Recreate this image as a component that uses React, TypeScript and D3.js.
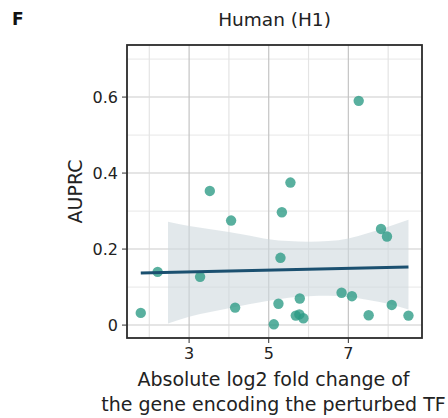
import React from "react";
import * as d3 from "d3";

const foldChange = [1.786, 2.21, 3.276, 3.52, 4.055, 4.156, 5.128, 5.244, 5.295, 5.33, 5.545, 5.68, 5.77, 5.78, 5.87, 6.83, 7.09, 7.26, 7.51, 7.82, 7.97, 8.09, 8.51];
const auprc = [0.032, 0.14, 0.127, 0.353, 0.275, 0.046, 0.002, 0.056, 0.177, 0.297, 0.375, 0.025, 0.028, 0.07, 0.018, 0.085, 0.076, 0.59, 0.026, 0.253, 0.233, 0.053, 0.025];

const fitX = [1.786, 8.51];
const fitY = [0.137, 0.153];

const bandX = [2.47, 3.0, 3.5, 4.0, 4.5, 5.0, 5.5, 6.0, 6.5, 7.0, 7.5, 8.0, 8.51];
const bandUpper = [0.272, 0.261, 0.253, 0.245, 0.236, 0.226, 0.221, 0.219, 0.221, 0.228, 0.242, 0.259, 0.277];
const bandLower = [0.004, 0.022, 0.034, 0.044, 0.055, 0.064, 0.072, 0.076, 0.077, 0.074, 0.066, 0.056, 0.041];

const xMajor = [3, 5, 7];
const xMinor = [2, 4, 6, 8];
const yMajor = [0, 0.2, 0.4, 0.6];
const yMinor = [0.1, 0.3, 0.5, 0.7];
const yTickLabels = ["0", "0.2", "0.4", "0.6"];

const title = "Human (H1)";
const panelLetter = "F";
const yLabel = "AUPRC";
const xLabelLines = ["Absolute log2 fold change of", "the gene encoding the perturbed TF"];

export default function App() {
  const W = 448, H = 418;
  const left = 127, right = 422, top = 45, bottom = 338;
  const x = d3.scaleLinear().domain([1.44, 8.85]).range([left, right]);
  const y = d3.scaleLinear().domain([-0.034, 0.737]).range([bottom, top]);
  const font = "'DejaVu Sans', sans-serif";

  const area = d3
    .area<number>()
    .x((_, i) => x(bandX[i]))
    .y0((_, i) => y(bandLower[i]))
    .y1((_, i) => y(bandUpper[i]))
    .curve(d3.curveMonotoneX);
  const line = d3
    .line<number>()
    .x((_, i) => x(fitX[i]))
    .y((_, i) => y(fitY[i]));

  const cx = (left + right) / 2;

  return (
    <svg width={W} height={H} style={{ position: "absolute", left: 0, top: 0, background: "#fff" }} fontFamily={font}>
      <rect x={0} y={0} width={W} height={H} fill="#fff" />
      {/* grid */}
      {yMinor.map((v) => (
        <line key={"ym" + v} x1={left} x2={right} y1={y(v)} y2={y(v)} stroke="#ececec" strokeWidth={1.2} />
      ))}
      {xMinor.map((v) => (
        <line key={"xm" + v} x1={x(v)} x2={x(v)} y1={top} y2={bottom} stroke="#e4e4e4" strokeWidth={1.2} />
      ))}
      {yMajor.map((v) => (
        <line key={"yM" + v} x1={left} x2={right} y1={y(v)} y2={y(v)} stroke="#dcdcdc" strokeWidth={1.5} />
      ))}
      {xMajor.map((v) => (
        <line key={"xM" + v} x1={x(v)} x2={x(v)} y1={top} y2={bottom} stroke="#c4c4c4" strokeWidth={1.2} />
      ))}
      {/* band */}
      <path d={area(bandX) || ""} fill="#cfd8dd" fillOpacity={0.6} />
      {/* points */}
      {foldChange.map((v, i) => (
        <circle key={"p" + i} cx={x(v)} cy={y(auprc[i])} r={5.2} fill="#2a9a84" fillOpacity={0.78} />
      ))}
      {/* fit line */}
      <path d={line(fitX) || ""} fill="none" stroke="#1b5070" strokeWidth={3} />
      {/* frame */}
      <rect x={left} y={top} width={right - left} height={bottom - top} fill="none" stroke="#2b2b2b" strokeWidth={1.8} />
      {/* y ticks */}
      {yMajor.map((v, i) => (
        <g key={"yt" + v}>
          <line x1={left - 5} x2={left} y1={y(v)} y2={y(v)} stroke="#333" strokeWidth={1} />
          <text x={left - 9} y={y(v)} dy="0.35em" textAnchor="end" fontSize={16} fill="#222">
            {yTickLabels[i]}
          </text>
        </g>
      ))}
      {/* x ticks */}
      {xMajor.map((v) => (
        <g key={"xt" + v}>
          <line x1={x(v)} x2={x(v)} y1={bottom} y2={bottom + 5} stroke="#333" strokeWidth={1} />
          <text x={x(v)} y={359} textAnchor="middle" fontSize={16} fill="#222">
            {String(v)}
          </text>
        </g>
      ))}
      {/* labels */}
      <text x={cx} y={26} textAnchor="middle" fontSize={18.5} fill="#222">
        {title}
      </text>
      <text x={12} y={25} fontSize={17} fontWeight="bold" fill="#111">
        {panelLetter}
      </text>
      <text transform={`translate(82, ${(top + bottom) / 2}) rotate(-90)`} textAnchor="middle" fontSize={19} fill="#222">
        {yLabel}
      </text>
      {xLabelLines.map((t, i) => (
        <text key={"xl" + i} x={cx - 1} y={386 + i * 25} textAnchor="middle" fontSize={19} fill="#222">
          {t}
        </text>
      ))}
    </svg>
  );
}
